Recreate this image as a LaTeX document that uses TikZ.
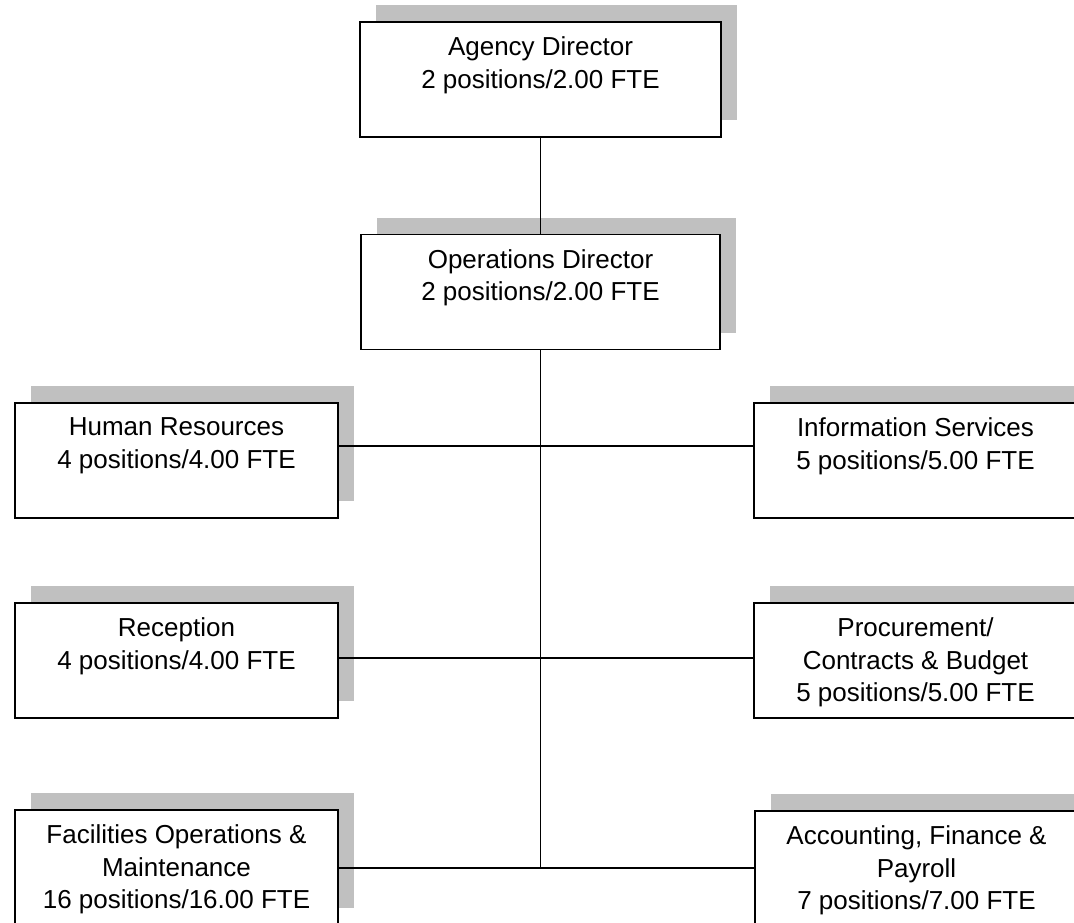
\documentclass[tikz,border=0pt]{standalone}
\usepackage{fontspec}
\setmainfont{Liberation Sans}
\usetikzlibrary{shadows}
\definecolor{shadowgray}{RGB}{192,192,192}
\begin{document}
\begin{tikzpicture}[x=1pt,y=-1pt,
  unit/.style={draw=black, line width=1.8pt, fill=white,
    minimum width=323pt, minimum height=115pt, inner sep=0pt,
    general shadow={fill=shadowgray, shadow xshift=16pt, shadow yshift=17pt}},
  wide/.style={minimum width=#1},
  lbl/.style={anchor=north, inner sep=0pt, align=center,
    font=\fontsize{26}{32.5}\selectfont},
  link/.style={draw=black, line width=1.5pt}]
\useasboundingbox (0,0) rectangle (1074,922);
\clip (0,0) rectangle (1074,922);

% units
\node[unit, wide=361pt] (agency) at (540.5,79.5) {};
\node[unit, wide=359pt] (ops) at (540.5,292) {};
\node[unit] (hr)   at (176.5,460.5) {};
\node[unit] (rec)  at (176.5,660.5) {};
\node[unit] (fac)  at (176.5,867.5) {};
\node[unit] (info) at (915.5,460.5) {};
\node[unit] (proc) at (915.5,660.5) {};
\node[unit] (acc)  at (916.5,868.5) {};

% unit titles
\node[lbl] (agency-t) at ([yshift=-15.5pt]agency.north) {Agency Director\\2 positions/2.00 FTE};
\node[lbl] (ops-t)  at ([yshift=-15.5pt]ops.north)  {Operations Director\\2 positions/2.00 FTE};
\node[lbl] (hr-t)   at ([yshift=-15.5pt]hr.north)   {Human Resources\\4 positions/4.00 FTE};
\node[lbl] (rec-t)  at ([yshift=-15.5pt]rec.north)  {Reception\\4 positions/4.00 FTE};
\node[lbl] (fac-t)  at ([yshift=-15.5pt]fac.north)  {Facilities Operations \&\\Maintenance\\16 positions/16.00 FTE};
\node[lbl] (info-t) at ([yshift=-15.5pt]info.north) {Information Services\\5 positions/5.00 FTE};
\node[lbl] (proc-t) at ([yshift=-15.5pt]proc.north) {Procurement/\\Contracts \& Budget\\5 positions/5.00 FTE};
\node[lbl] (acc-t)  at ([yshift=-15.5pt]acc.north)  {Accounting, Finance \&\\Payroll\\7 positions/7.00 FTE};

% reporting lines
\coordinate (j1) at (540.5,446);
\coordinate (j2) at (540.5,658);
\coordinate (j3) at (540.5,868);
\draw[link] (agency.south) -- (ops.north);
\draw[link] (ops.south) -- (j3);
\draw[link] (j1 -| hr.east) -- (j1 -| info.west);
\draw[link] (j2 -| rec.east) -- (j2 -| proc.west);
\draw[link] (j3 -| fac.east) -- (j3 -| acc.west);
\end{tikzpicture}
\end{document}
